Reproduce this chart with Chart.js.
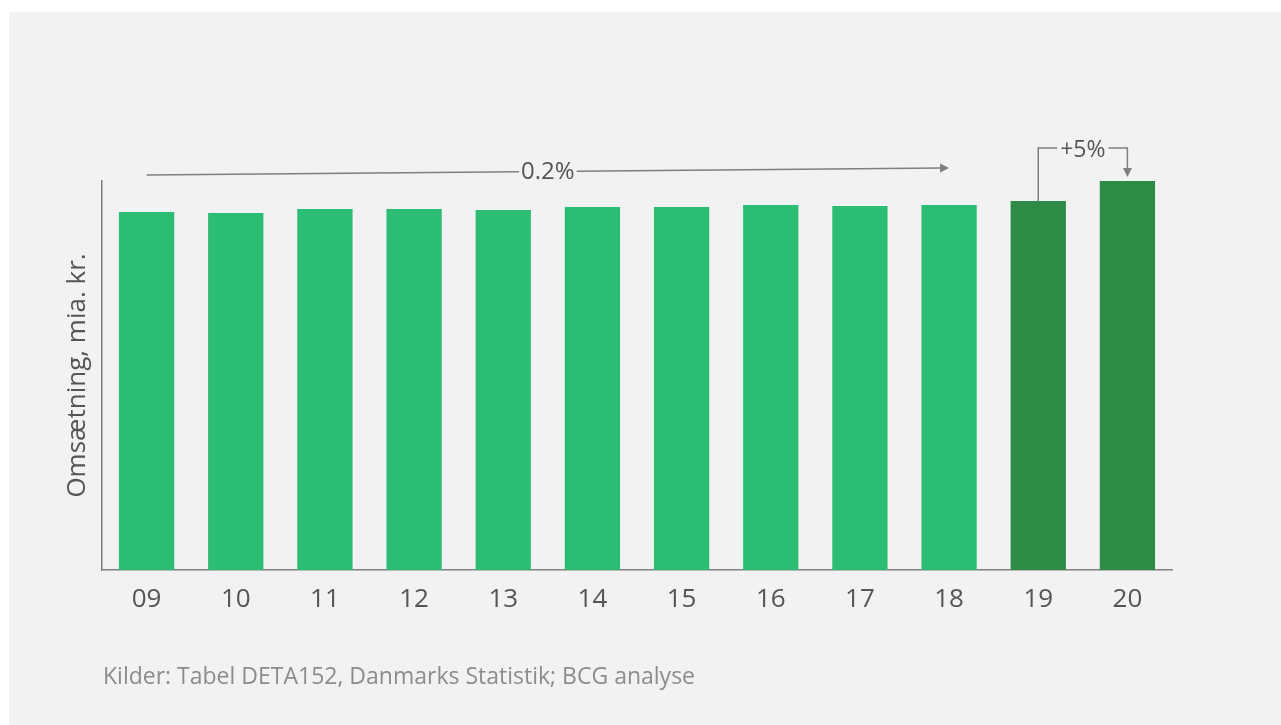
<!DOCTYPE html>
<html>
<head>
<meta charset="utf-8">
<script src="https://cdn.jsdelivr.net/npm/chart.js@4.4.0/dist/chart.umd.min.js"></script>
<style>
  body { margin: 0; background: #ffffff; }
  #wrap { position: absolute; left: 9px; top: 12px; width: 1272px; height: 713px; background: #f2f2f2; }
  #chart { position: absolute; left: 0; top: 0; }
  #source { position: absolute; left: 94px; top: 647px; font-family: "Open Sans", sans-serif; font-size: 23px; color: #8c8c8c; }
</style>
</head>
<body>
<div id="wrap">
  <canvas id="chart" width="1272" height="713"></canvas>
  <div id="source">Kilder: Tabel DETA152, Danmarks Statistik; BCG analyse</div>
</div>
<script>
// Years and turnover (mia. kr.)
const years = ['09', '10', '11', '12', '13', '14', '15', '16', '17', '18', '19', '20'];
const turnover = [35.8, 35.7, 36.1, 36.1, 36.0, 36.3, 36.3, 36.5, 36.4, 36.5, 36.9, 38.9];
const barColors = ['#2bbd73', '#2bbd73', '#2bbd73', '#2bbd73', '#2bbd73', '#2bbd73',
                   '#2bbd73', '#2bbd73', '#2bbd73', '#2bbd73', '#2e8b46', '#2e8b46'];
const growthLabels = ['0.2%', '+5%'];

const textColor = '#555555';
const lineColor = '#7f7f7f';
const fontFamily = '"Open Sans", sans-serif';

function arrowHead(ctx, x, y, dir) {
    // dir: 'right' or 'down'
    ctx.beginPath();
    if (dir === 'right') {
        ctx.moveTo(x, y);
        ctx.lineTo(x - 9, y - 4.5);
        ctx.lineTo(x - 9, y + 4.5);
    } else {
        ctx.moveTo(x, y);
        ctx.lineTo(x - 4.5, y - 9);
        ctx.lineTo(x + 4.5, y - 9);
    }
    ctx.closePath();
    ctx.fill();
}

const annotations = {
    id: 'annotations',
    afterDatasetsDraw(chart) {
        const ctx = chart.ctx;
        const x = chart.scales.x;
        const y = chart.scales.y;
        ctx.save();
        ctx.strokeStyle = lineColor;
        ctx.fillStyle = lineColor;
        ctx.lineWidth = 1.5;
        ctx.textAlign = 'center';
        ctx.textBaseline = 'middle';

        // CAGR arrow 09 -> 18
        ctx.font = '24px ' + fontFamily;
        const x1 = x.getPixelForValue(0);
        const x2 = x.getPixelForValue(9);
        const y1 = y.getPixelForValue(turnover[0]) - 37;
        const y2 = y.getPixelForValue(turnover[9]) - 37;
        const mx = (x1 + x2) / 2, my = (y1 + y2) / 2;
        const half = ctx.measureText(growthLabels[0]).width / 2 + 2;
        const slope = (y2 - y1) / (x2 - x1);
        ctx.beginPath();
        ctx.moveTo(x1, y1);
        ctx.lineTo(mx - half, my - slope * half);
        ctx.moveTo(mx + half, my + slope * half);
        ctx.lineTo(x2 - 8, y2 - slope * 8);
        ctx.stroke();
        arrowHead(ctx, x2, y2, 'right');
        ctx.fillStyle = textColor;
        ctx.fillText(growthLabels[0], mx, my + 1);

        // Bracket 19 -> 20
        ctx.font = '23px ' + fontFamily;
        const bx1 = x.getPixelForValue(10);
        const bx2 = x.getPixelForValue(11);
        const top19 = y.getPixelForValue(turnover[10]);
        const top20 = y.getPixelForValue(turnover[11]);
        const by = top20 - 33;
        const bmx = (bx1 + bx2) / 2;
        const bhalf = ctx.measureText(growthLabels[1]).width / 2 + 3;
        ctx.beginPath();
        ctx.moveTo(bx1, top19);
        ctx.lineTo(bx1, by);
        ctx.lineTo(bmx - bhalf, by);
        ctx.moveTo(bmx + bhalf, by);
        ctx.lineTo(bx2, by);
        ctx.lineTo(bx2, top20 - 12);
        ctx.stroke();
        ctx.fillStyle = lineColor;
        arrowHead(ctx, bx2, top20 - 4, 'down');
        ctx.fillStyle = textColor;
        ctx.fillText(growthLabels[1], bmx, by + 2);
        ctx.restore();
    }
};

new Chart(document.getElementById('chart'), {
    type: 'bar',
    data: {
        labels: years,
        datasets: [{
            data: turnover,
            backgroundColor: barColors,
            categoryPercentage: 1,
            barPercentage: 0.62
        }]
    },
    options: {
        responsive: false,
        animation: false,
        layout: { padding: { left: 0, top: 169, right: 109, bottom: 95 } },
        plugins: {
            legend: { display: false },
            tooltip: { enabled: false }
        },
        scales: {
            x: {
                grid: { display: false, drawTicks: false },
                border: { display: true, color: lineColor, width: 1.5 },
                ticks: { color: textColor, font: { family: fontFamily, size: 26 }, padding: 14 },
                afterFit: s => { s.height = 60; }
            },
            y: {
                min: 0,
                max: 38.9,
                grid: { display: false, drawTicks: false },
                border: { display: true, color: lineColor, width: 1.5 },
                ticks: { display: false },
                title: {
                    display: true,
                    text: 'Omsætning, mia. kr.',
                    color: textColor,
                    font: { family: fontFamily, size: 26 },
                    padding: { top: 53, bottom: 0 }
                },
                afterFit: s => { s.width = 93; }
            }
        }
    },
    plugins: [annotations]
});
</script>
</body>
</html>
